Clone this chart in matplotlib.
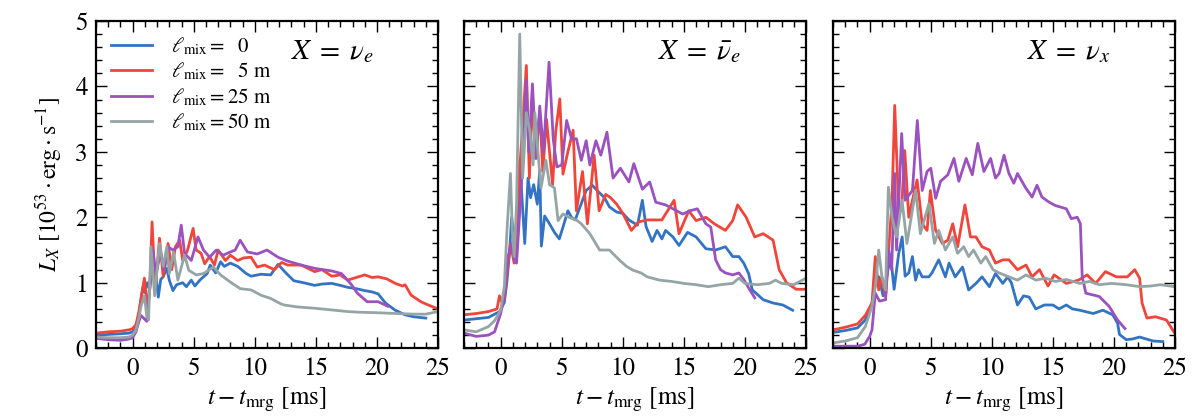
import matplotlib
matplotlib.use("Agg")
import matplotlib.pyplot as plt
from matplotlib.ticker import MultipleLocator

plt.rcParams["font.family"] = ["STIXGeneral", "DejaVu Serif"]
plt.rcParams["mathtext.fontset"] = "stix"

# ---------------------------------------------------------------------------
# data: luminosity L_X [1e53 erg/s] vs t - t_mrg [ms]
# ---------------------------------------------------------------------------
# X = nu_e
t_nue_0 = [-3, -2, -1, -0.3, 0, 0.3, 0.5, 0.7, 0.85, 1.0, 1.2, 1.4, 1.6, 1.85, 2.1, 2.3, 2.5, 2.8, 3.0, 3.3,
           3.6, 4.1, 4.4, 4.8, 5.1, 5.5, 6.1, 6.35, 6.8, 7.2, 7.5, 8.0, 8.6, 9.3, 9.7, 10.5, 11.3, 11.9, 12.6,
           13.2, 14.0, 14.9, 15.5, 16.3, 17.0, 17.6, 18.3, 19.0, 19.6, 20.1, 20.7, 21.5, 22.3, 23.0, 24.0]
L_nue_0 = [0.20, 0.21, 0.22, 0.23, 0.25, 0.33, 0.50, 0.78, 0.94, 0.85, 1.0, 0.9, 1.25, 1.2, 0.78, 1.05, 1.09,
           1.22, 1.04, 0.88, 0.97, 1.0, 0.94, 1.04, 0.95, 1.04, 1.14, 1.27, 1.15, 1.32, 1.25, 1.30, 1.25, 1.14,
           1.10, 1.13, 1.12, 1.28, 1.14, 1.03, 1.0, 0.96, 0.98, 0.99, 0.96, 0.93, 0.91, 0.88, 0.86, 0.83, 0.69,
           0.58, 0.51, 0.48, 0.46]
t_nue_5 = [-3, -2, -1, -0.3, 0, 0.27, 0.5, 0.68, 0.96, 1.1, 1.23, 1.4, 1.59, 1.75, 1.87, 2.2, 2.5, 2.9, 3.2,
           3.5, 3.85, 4.1, 4.5, 4.95, 5.2, 5.6, 5.9, 6.3, 6.7, 7.0, 7.6, 8.0, 8.6, 9.1, 9.7, 10.2, 10.8, 11.6,
           12.2, 12.7, 13.8, 14.9, 15.5, 16.3, 17.0, 17.6, 18.3, 19.0, 19.6, 20.1, 20.8, 21.5, 22.1, 22.3,
           22.8, 23.6, 24.2, 25.0]
L_nue_5 = [0.23, 0.25, 0.26, 0.28, 0.30, 0.36, 0.55, 0.74, 1.07, 0.85, 0.60, 0.9, 1.93, 1.3, 0.96, 1.68, 1.1,
           1.6, 1.2, 1.55, 1.65, 1.34, 1.5, 1.83, 1.5, 1.45, 1.29, 1.4, 1.27, 1.5, 1.34, 1.42, 1.34, 1.38, 1.39,
           1.24, 1.27, 1.2, 1.31, 1.27, 1.27, 1.17, 1.2, 1.1, 1.12, 1.04, 1.08, 1.12, 1.08, 1.09, 1.06, 0.99,
           0.95, 0.97, 0.81, 0.71, 0.66, 0.60]
t_nue_25 = [-3, -2, -1, -0.3, 0, 0.27, 0.5, 0.68, 0.9, 1.15, 1.3, 1.45, 1.65, 1.9, 2.3, 2.6, 2.9, 3.3, 3.7,
            3.98, 4.25, 4.8, 5.2, 5.35, 5.8, 6.3, 6.85, 7.4, 8.0, 8.4, 8.8, 9.4, 10.2, 11.0, 11.9, 12.7, 13.8,
            14.9, 16.3, 17.1, 17.6, 18.0, 18.4, 19.2, 20.1, 20.9]
L_nue_25 = [0.15, 0.13, 0.12, 0.14, 0.16, 0.25, 0.40, 0.50, 0.46, 0.41, 0.7, 1.1, 1.5, 1.14, 1.45, 1.2, 1.55,
            1.5, 1.55, 1.88, 1.45, 1.34, 1.6, 1.7, 1.5, 1.39, 1.5, 1.42, 1.47, 1.5, 1.65, 1.47, 1.44, 1.5, 1.39,
            1.33, 1.27, 1.22, 1.18, 1.14, 1.04, 0.95, 0.84, 0.71, 0.71, 0.64]
t_nue_50 = [-3, -2, -1, -0.3, 0, 0.27, 0.5, 0.68, 0.96, 1.15, 1.3, 1.5, 1.8, 2.2, 2.5, 2.8, 3.0, 3.35, 3.7,
            4.25, 4.6, 5.2, 5.8, 6.6, 7.2, 8.0, 8.8, 9.7, 10.5, 11.3, 12.1, 12.4, 13.5, 14.9, 16.0, 17.6, 18.5,
            20.3, 21.5, 23.1, 24.0, 25.0]
L_nue_50 = [0.17, 0.16, 0.16, 0.17, 0.2, 0.28, 0.45, 0.64, 0.8, 0.5, 0.43, 1.55, 0.8, 1.6, 1.25, 1.55, 1.14,
            1.47, 1.04, 1.42, 1.19, 1.12, 1.14, 1.24, 1.12, 1.01, 0.91, 0.89, 0.81, 0.76, 0.68, 0.66, 0.63, 0.61,
            0.59, 0.56, 0.55, 0.54, 0.53, 0.52, 0.52, 0.56]

# X = anti nu_e
t_anue_0 = [-3, -2, -1, -0.08, 0.3, 0.5, 0.74, 0.9, 1.1, 1.3, 1.56, 1.97, 2.24, 2.45, 2.7, 3.0, 3.2, 3.33,
            3.6, 4.0, 4.4, 4.8, 5.1, 5.5, 5.8, 6.1, 6.5, 7.0, 7.5, 8.0, 8.5, 8.9, 9.5, 10.0, 10.5, 11.2, 11.6,
            11.9, 12.4, 12.8, 13.2, 13.5, 14.1, 14.6, 15.3, 16.0, 16.8, 17.6, 18.4, 19.0, 19.5, 19.9, 20.3,
            20.6, 21.5, 22.3, 23.1, 23.9]
L_anue_0 = [0.43, 0.45, 0.47, 0.56, 0.7, 1.0, 1.5, 2.0, 1.6, 1.4, 2.87, 1.6, 2.6, 2.3, 2.5, 2.2, 2.72, 1.56,
            2.02, 1.9, 1.77, 1.67, 1.85, 2.1, 2.0, 1.96, 2.16, 2.41, 2.49, 2.39, 2.3, 2.16, 2.08, 2.06, 1.96,
            1.88, 2.26, 1.86, 1.63, 1.8, 1.67, 1.8, 1.7, 1.57, 1.77, 1.7, 1.52, 1.5, 1.55, 1.4, 1.4, 1.3, 1.14,
            0.89, 0.74, 0.69, 0.66, 0.58]
t_anue_5 = [-3, -2, -1, -0.3, -0.1, 0.1, 0.3, 0.55, 0.8, 1.1, 1.5, 1.8, 2.1, 2.35, 2.6, 2.85, 3.2, 3.45, 3.75,
            4.0, 4.25, 4.5, 4.84, 5.1, 5.5, 5.93, 6.2, 6.7, 7.1, 7.65, 8.06, 8.6, 9.0, 9.5, 10.0, 10.7, 11.3,
            12.0, 13.2, 14.2, 14.6, 15.4, 16.0, 16.8, 17.5, 18.4, 19.0, 19.4, 20.1, 20.8, 21.5, 22.3, 22.8,
            23.4, 24.2, 25.0]
L_anue_5 = [0.51, 0.53, 0.56, 0.6, 0.8, 0.7, 0.75, 1.2, 1.6, 1.3, 2.6, 3.4, 4.32, 2.6, 3.9, 2.9, 3.6, 2.7,
            3.5, 3.0, 2.5, 3.3, 3.81, 2.66, 3.0, 3.33, 2.1, 2.7, 1.9, 2.95, 2.1, 2.35, 2.3, 2.2, 2.06, 1.8,
            1.93, 1.96, 1.96, 2.26, 1.75, 2.1, 1.95, 2.0, 1.9, 1.8, 1.95, 2.19, 2.0, 1.7, 1.75, 1.65, 1.2, 1.0,
            0.9, 0.9]
t_anue_25 = [-3, -2, -1, -0.5, 0, 0.3, 0.6, 0.9, 1.1, 1.3, 1.6, 1.85, 2.1, 2.3, 2.6, 2.9, 3.2, 3.5, 3.96,
             4.3, 4.6, 5.0, 5.4, 5.8, 6.2, 6.6, 7.0, 7.3, 7.8, 8.2, 8.7, 9.2, 9.8, 10.5, 10.9, 11.6, 12.2, 12.7,
             13.5, 14.1, 14.9, 15.5, 16.1, 16.8, 17.2, 17.6, 18.0, 18.4, 19.0, 19.5, 19.9, 20.3, 20.8]
L_anue_25 = [0.23, 0.18, 0.2, 0.25, 0.53, 0.8, 1.4, 1.6, 1.35, 1.3, 2.2, 3.0, 4.1, 3.0, 4.04, 2.9, 3.7, 3.0,
             4.37, 3.2, 2.77, 2.8, 3.48, 3.2, 3.2, 2.87, 3.17, 2.8, 3.17, 2.95, 3.3, 2.6, 2.75, 2.54, 2.82,
             2.43, 2.54, 2.23, 2.19, 2.13, 2.05, 2.1, 2.13, 1.9, 1.85, 1.35, 1.2, 1.15, 1.12, 1.15, 1.05, 0.92,
             0.77]
t_anue_50 = [-3, -2, -1, -0.5, 0, 0.3, 0.5, 0.8, 0.95, 1.1, 1.3, 1.56, 1.8, 2.1, 2.4, 2.65, 2.8, 3.05, 3.3,
             3.7, 4.0, 4.4, 4.7, 5.1, 5.6, 6.2, 6.6, 7.3, 8.1, 8.9, 9.7, 10.3, 10.85, 11.5, 12.0, 13.0, 14.0,
             15.0, 16.0, 17.0, 18.0, 19.0, 19.5, 20.0, 21.0, 22.0, 22.5, 23.0, 24.0, 25.0]
L_anue_50 = [0.28, 0.25, 0.33, 0.42, 0.58, 0.95, 1.75, 2.67, 1.8, 1.4, 2.2, 4.8, 2.6, 3.6, 3.3, 2.8, 3.6,
             3.0, 2.45, 2.87, 2.5, 2.45, 1.95, 2.05, 2.0, 1.96, 1.9, 1.75, 1.5, 1.5, 1.35, 1.25, 1.19, 1.15,
             1.09, 1.04, 1.02, 0.99, 0.97, 0.94, 0.97, 0.99, 1.07, 0.99, 0.97, 0.99, 1.04, 0.99, 0.97, 1.07]

# X = nu_x
t_nux_0 = [-3, -2, -1, -0.36, 0.19, 0.45, 0.74, 1.1, 1.5, 1.72, 2.0, 2.37, 2.66, 2.9, 3.2, 3.5, 3.76, 4.0,
           4.3, 4.85, 5.1, 5.65, 6.2, 6.5, 7.0, 7.6, 8.1, 8.7, 9.2, 9.8, 10.3, 10.9, 11.3, 11.6, 12.1, 12.6,
           13.06, 13.6, 14.3, 15.0, 15.5, 16.1, 16.6, 17.2, 18.3, 19.1, 19.9, 20.3, 20.45, 21.0, 21.5, 22.1,
           23.2, 24.0]
L_nux_0 = [0.24, 0.27, 0.31, 0.43, 0.69, 0.95, 1.09, 0.8, 1.2, 1.4, 0.9, 1.44, 1.7, 1.1, 1.15, 1.4, 1.04, 1.2,
           1.09, 1.09, 1.15, 1.35, 1.09, 1.3, 1.09, 1.24, 0.89, 0.99, 1.09, 0.94, 1.14, 0.99, 1.09, 1.0, 0.66,
           0.8, 0.78, 0.6, 0.66, 0.66, 0.6, 0.66, 0.6, 0.58, 0.53, 0.58, 0.51, 0.38, 0.21, 0.13, 0.14, 0.17,
           0.11, 0.1]
t_nux_5 = [-3, -2, -1, -0.36, 0.19, 0.46, 0.74, 1.0, 1.3, 1.83, 2.05, 2.37, 2.6, 2.87, 3.2, 3.5, 3.88, 4.3,
           4.7, 4.97, 5.4, 5.95, 6.4, 6.8, 7.2, 7.8, 8.25, 8.7, 9.2, 9.8, 10.3, 10.9, 11.4, 12.1, 12.8, 13.3,
           13.9, 14.6, 15.1, 16.1, 17.1, 17.8, 18.5, 19.3, 20.2, 21.1, 21.7, 22.1, 22.3, 22.7, 23.4, 24.3,
           24.9]
L_nux_5 = [0.28, 0.32, 0.37, 0.5, 0.69, 1.4, 0.89, 1.09, 0.79, 2.26, 3.71, 2.16, 2.1, 3.02, 2.0, 2.26, 2.57,
           1.9, 1.8, 2.41, 1.8, 1.6, 1.65, 1.9, 1.55, 2.19, 1.7, 1.7, 1.55, 1.5, 1.3, 1.35, 1.35, 1.2, 1.27,
           1.09, 1.2, 0.95, 1.12, 0.99, 1.04, 1.12, 0.99, 1.17, 1.09, 1.09, 1.2, 1.07, 0.69, 0.46, 0.48, 0.43,
           0.25]
t_nux_25 = [-3, -2, -1, -0.4, 0, 0.19, 0.46, 0.8, 1.3, 1.56, 1.8, 2.05, 2.2, 2.62, 2.9, 3.5, 3.9, 4.3, 4.7,
            5.0, 5.4, 5.8, 6.4, 6.9, 7.3, 7.9, 8.4, 8.85, 9.35, 9.9, 10.3, 10.6, 11.0, 11.4, 11.8, 12.1, 12.8,
            13.3, 13.7, 14.1, 14.7, 15.2, 16.1, 16.5, 17.0, 17.25, 17.4, 17.7, 18.8, 19.6, 20.3, 20.9]
L_nux_25 = [0.03, 0.03, 0.03, 0.06, 0.18, 0.28, 0.84, 0.72, 0.74, 1.5, 1.2, 2.67, 1.5, 3.28, 2.26, 2.41, 3.48,
            2.41, 2.7, 2.75, 2.29, 2.55, 2.65, 2.9, 2.55, 2.9, 2.65, 3.13, 2.7, 2.9, 2.6, 2.67, 2.95, 2.67,
            2.52, 2.67, 2.44, 2.31, 2.49, 2.31, 2.23, 2.18, 2.13, 1.98, 2.0, 1.9, 1.09, 0.84, 0.79, 0.64,
            0.43, 0.3]
t_nux_50 = [-3, -2, -1, -0.36, 0.19, 0.5, 0.74, 1.0, 1.3, 1.53, 1.83, 2.2, 2.65, 3.05, 3.76, 4.15, 4.85,
            5.3, 5.65, 6.2, 6.8, 7.2, 7.7, 8.1, 8.5, 9.1, 9.5, 10.1, 10.6, 11.4, 12.1, 12.8, 13.6, 14.4, 15.2,
            16.1, 17.2, 18.0, 18.8, 19.8, 21.0, 22.1, 23.0, 23.8, 25.0]
L_nux_50 = [0.08, 0.11, 0.16, 0.33, 0.64, 1.0, 1.5, 1.09, 0.89, 2.46, 2.0, 1.7, 2.26, 1.6, 2.41, 1.75, 2.21,
            1.6, 1.8, 1.5, 1.7, 1.45, 1.55, 1.4, 1.5, 1.3, 1.4, 1.2, 1.15, 1.09, 1.04, 1.12, 1.04, 1.07, 1.02,
            1.05, 0.99, 1.02, 0.97, 0.99, 0.97, 0.94, 0.95, 0.97, 0.94]

series_labels = [r"$\ell_{\rm mix} = \;\;\,0$",
                 r"$\ell_{\rm mix} = \;\;\,5$ m",
                 r"$\ell_{\rm mix} = 25$ m",
                 r"$\ell_{\rm mix} = 50$ m"]
colors = ["#3373c4", "#f0453a", "#9b52bf", "#95a5a6"]
panel_titles = [r"$X\; = \;\nu_e$", r"$X\; = \;\bar{\nu}_e$", r"$X\; = \;\nu_x$"]

panels = [
    [(t_nue_0, L_nue_0), (t_nue_5, L_nue_5), (t_nue_25, L_nue_25), (t_nue_50, L_nue_50)],
    [(t_anue_0, L_anue_0), (t_anue_5, L_anue_5), (t_anue_25, L_anue_25), (t_anue_50, L_anue_50)],
    [(t_nux_0, L_nux_0), (t_nux_5, L_nux_5), (t_nux_25, L_nux_25), (t_nux_50, L_nux_50)],
]

fig = plt.figure(figsize=(12, 4.2), dpi=100)
lefts = [0.08, 0.3867, 0.6942]
axes = [fig.add_axes([l, 0.171, 0.285, 0.779]) for l in lefts]

for i, ax in enumerate(axes):
    for (t, L), c, lab in zip(panels[i], colors, series_labels):
        ax.plot(t, L, color=c, lw=2.0, label=lab)

    ax.set_xlim(-3, 25)
    ax.set_ylim(0, 5)
    ax.xaxis.set_major_locator(MultipleLocator(5))
    ax.xaxis.set_minor_locator(MultipleLocator(1))
    ax.yaxis.set_major_locator(MultipleLocator(1))
    ax.yaxis.set_minor_locator(MultipleLocator(0.2))
    ax.tick_params(which="both", direction="in", top=True, right=True, labelsize=18, width=1.0)
    ax.tick_params(which="major", length=8, pad=6)
    ax.tick_params(which="minor", length=4)
    for sp in ax.spines.values():
        sp.set_linewidth(1.6)
    ax.set_xlabel(r"$t - t_{\rm mrg}$ [ms]", fontsize=18, labelpad=4)
    ax.text(0.69, 0.905, panel_titles[i], transform=ax.transAxes, fontsize=21, ha="center", va="center")
    if i > 0:
        ax.tick_params(labelleft=False)

axes[0].set_ylabel(r"$L_X\ [10^{53}\cdot{\rm erg}\cdot{\rm s}^{-1}]$", fontsize=17, labelpad=8)
axes[0].legend(loc="upper left", frameon=False, fontsize=15, handlelength=2.0,
               borderaxespad=0.3, labelspacing=0.18, handletextpad=0.9)

fig.savefig("out.png", dpi=100)
